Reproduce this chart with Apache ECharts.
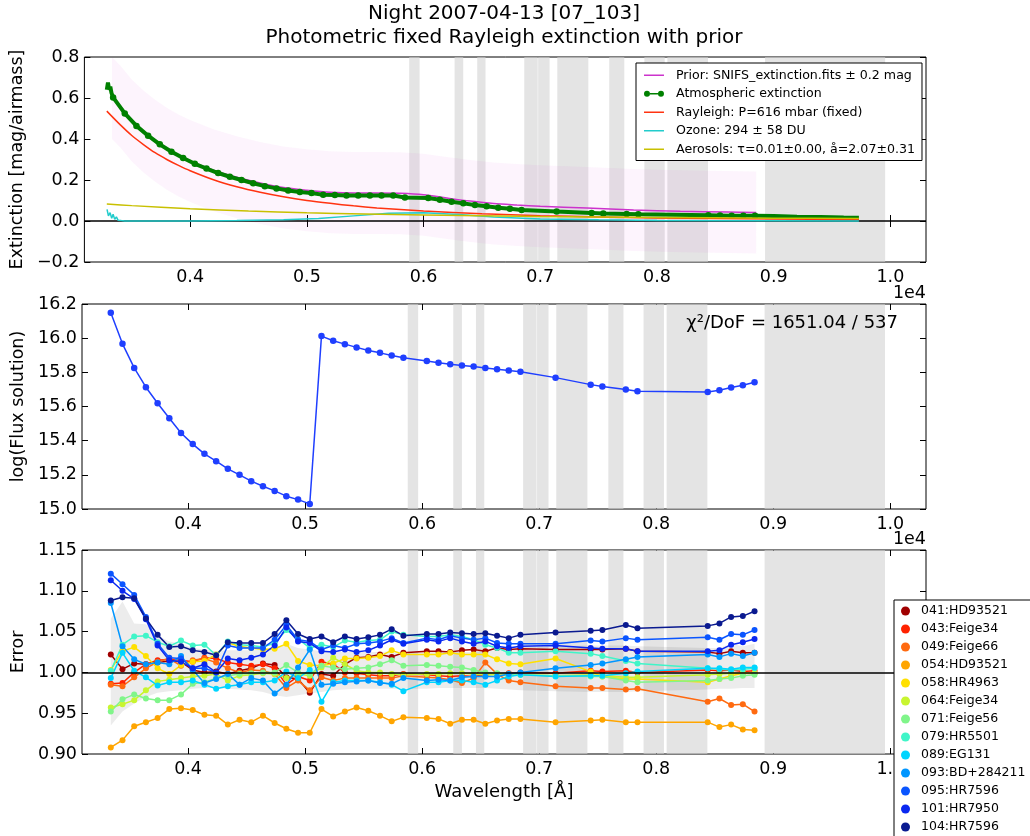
<!DOCTYPE html>
<html>
<head>
<meta charset="utf-8">
<script src="https://cdn.jsdelivr.net/npm/echarts@6/dist/echarts.min.js"></script>
<style>
  html, body { margin: 0; padding: 0; background: #fff; }
  #chart { width: 1030px; height: 836px; }
</style>
</head>
<body>
<div id="chart"></div>
<script>
// wavelength grid of the fitted points (Angstrom)
var WAVES = [3340,3440,3540,3640,3740,3840,3940,4040,4140,4240,4340,4440,4540,4640,4740,4840,4940,5040,
             5140,5240,5340,5440,5540,5640,5740,5840,
             6040,6140,6240,6340,6440,6540,6640,6740,6840,
             7140,7440,7540,7740,7840,
             8440,8540,8640,8740,8840];

// telluric / masked regions (grey bands)
var TELLURIC = [[5877,5966],[6266,6340],[6460,6531],[6863,6978],[6982,7080],[7146,7412],
                [7591,7720],[7892,8066],[8089,8437],[8926,9955]];

// top panel
var EXTINCTION = [0.603,0.525,0.464,0.416,0.374,0.338,0.307,0.279,0.256,0.234,0.216,0.200,0.184,0.170,0.159,0.149,0.141,0.136,
                  0.128,0.127,0.124,0.124,0.124,0.125,0.124,0.115,
                  0.112,0.104,0.094,0.086,0.078,0.072,0.065,0.060,0.054,
                  0.046,0.039,0.036,0.034,0.033,
                  0.028,0.027,0.026,0.026,0.026];
var EXT_HEAD_W = [3286,3296,3306,3316,3326];
var EXT_HEAD_V = [0.640,0.675,0.640,0.655,0.625];
var EXT_TAIL_W = [9000,9200,9400,9600,9730];
var EXT_TAIL_V = [0.024,0.021,0.019,0.017,0.016];

var PRIOR_W = [3330,3400,3500,3600,3700,3800,3900,4000,4200,4400,4600,4800,5000,5200,5400,5600,5800,6000,6200,6400,6600,6800,7000,7400,7800,8200,8600,8850];
var PRIOR_V = [0.600,0.560,0.490,0.437,0.392,0.353,0.320,0.293,0.248,0.213,0.185,0.163,0.150,0.140,0.136,0.137,0.135,0.128,0.112,0.097,0.085,0.078,0.072,0.063,0.054,0.047,0.044,0.042];

var RAY_W = [3286,3400,3500,3600,3700,3800,3900,4000,4200,4400,4600,4800,5000,5200,5400,5600,5800,6000,6500,7000,7500,8000,8500,9000,9730];
var RAY_V = [0.536,0.470,0.417,0.373,0.333,0.300,0.271,0.245,0.201,0.167,0.140,0.118,0.100,0.086,0.074,0.064,0.056,0.049,0.035,0.026,0.020,0.015,0.012,0.0095,0.007];

var OZ_W = [3288,3300,3314,3328,3340,3354,3368,3382,3396,3410,3425,3440,3600,4000,4400,4800,5100,5400,5700,6000,6300,6600,7000,7500,8000,9000,9730];
var OZ_V = [0.057,0.025,0.041,0.013,0.033,0.008,0.020,0.004,0.010,0.002,0.005,0.000,0.000,0.000,0.002,0.006,0.012,0.025,0.038,0.040,0.032,0.020,0.010,0.006,0.003,0.001,0.000];

var AER_W = [3286,3500,4000,4500,5000,5500,6000,7000,8000,9000,9730];
var AER_V = [0.083,0.075,0.060,0.049,0.040,0.034,0.029,0.022,0.017,0.014,0.012];

// middle panel
var FLUX = [16.149,15.967,15.826,15.713,15.619,15.531,15.445,15.380,15.323,15.280,15.235,15.200,15.163,15.133,15.106,15.075,15.055,15.030,
            16.012,15.985,15.965,15.946,15.928,15.914,15.899,15.885,
            15.867,15.856,15.848,15.840,15.834,15.826,15.818,15.811,15.803,
            15.769,15.728,15.717,15.699,15.689,
            15.685,15.695,15.711,15.724,15.742];

// bottom panel
var STARS = ['041:HD93521','043:Feige34','049:Feige66','054:HD93521','058:HR4963','064:Feige34','071:Feige56',
             '079:HR5501','089:EG131','093:BD+284211','095:HR7596','101:HR7950','104:HR7596'];
var STAR_COLORS = ['#a00000','#ff2200','#ff6a10','#ffa500','#ffe000','#c8f530','#80f58a',
                   '#40f5c8','#00d5ff','#0096ff','#0a55ff','#0a28f0','#0a1a90'];
var ERR_041 = [1.022,1.004,1.011,1.010,1.012,1.014,1.013,1.003,1.000,1.001,0.998,1.002,1.005,1.011,1.009,0.994,0.992,0.975,
               0.998,0.996,1.010,1.018,1.019,1.022,1.019,1.024, 1.026,1.026,1.025,1.027,1.028,1.026,1.030,1.028,1.029,
               1.028,1.028,1.028,1.029,1.026, 1.025,1.023,1.026,1.024,1.024];
var ERR_043 = [0.986,0.987,1.000,1.010,1.015,1.016,1.015,1.013,1.018,1.017,1.012,1.010,1.008,1.010,1.005,0.985,0.995,0.990,
               1.013,1.010,1.000,0.999,0.997,0.996,0.996,0.998, 0.997,0.996,0.995,0.996,0.995,0.997,0.998,0.999,1.000,
               0.999,1.002,1.001,1.002,1.000, 1.003,1.002,1.003,1.001,1.002];
var ERR_049 = [0.985,0.983,0.994,1.005,1.013,1.017,1.008,1.015,1.017,1.012,1.005,1.000,1.003,1.002,0.998,0.981,0.990,0.978,
               0.994,0.990,0.993,0.993,0.993,0.993,0.993,0.996, 0.994,0.993,0.991,0.987,0.993,1.012,0.998,0.990,0.988,
               0.983,0.981,0.981,0.979,0.980, 0.964,0.968,0.960,0.961,0.952];
var ERR_054 = [0.908,0.917,0.934,0.939,0.944,0.955,0.956,0.954,0.948,0.947,0.936,0.942,0.939,0.947,0.938,0.931,0.926,0.926,
               0.955,0.946,0.952,0.957,0.953,0.947,0.940,0.945, 0.944,0.943,0.937,0.942,0.942,0.937,0.941,0.943,0.943,
               0.939,0.941,0.942,0.939,0.939, 0.939,0.933,0.936,0.930,0.929];
var ERR_058 = [1.003,1.026,1.031,1.020,1.005,0.998,1.009,1.013,1.014,1.022,1.036,1.032,1.030,1.028,1.029,1.035,1.014,1.009,
               1.008,1.011,1.017,1.017,1.018,1.020,1.027,1.022, 1.022,1.022,1.024,1.022,1.022,1.022,1.016,1.011,1.010,
               1.017,1.001,0.995,0.992,0.992, 0.988,0.992,0.996,0.999,0.999];
var ERR_064 = [0.957,0.961,0.966,0.978,0.989,0.991,0.993,0.995,0.996,0.998,0.990,0.996,0.997,0.999,0.998,0.993,0.998,0.996,
               1.006,1.018,1.010,1.002,1.000,1.000,0.998,0.997, 0.998,0.998,0.999,0.999,0.998,0.997,0.997,0.996,0.997,
               0.996,0.997,0.996,0.994,0.994, 0.997,0.998,0.999,0.999,0.999];
var ERR_071 = [0.952,0.967,0.973,0.968,0.966,0.966,0.973,0.986,0.988,0.993,0.996,0.998,0.999,1.000,1.000,1.009,1.000,0.998,
               1.008,1.006,1.004,1.005,1.006,1.010,1.015,1.008, 1.009,1.008,1.007,1.006,1.003,1.000,0.999,0.998,0.997,
               0.996,0.995,0.995,0.990,0.988, 0.990,0.992,0.993,0.996,0.997];
var ERR_079 = [1.002,1.034,1.044,1.045,1.037,1.032,1.039,1.033,1.034,1.021,1.038,1.034,1.033,1.031,1.036,1.052,1.041,1.030,
               1.034,1.031,1.039,1.037,1.039,1.040,1.050,1.046, 1.044,1.044,1.046,1.044,1.040,1.034,1.030,1.024,1.024,
               1.026,1.023,1.020,1.014,1.011, 1.005,1.004,1.003,1.004,1.005];
var ERR_089 = [0.993,1.024,1.002,0.994,0.984,0.988,0.988,0.990,0.985,0.980,0.983,0.985,0.988,0.988,0.990,1.001,0.993,1.003,
               0.964,0.988,0.990,0.990,0.990,0.988,0.985,0.977, 0.988,0.988,0.990,0.990,0.988,0.985,0.990,0.995,0.997,
               0.995,0.996,0.996,0.999,1.001, 1.005,1.005,1.004,1.006,1.006];
var ERR_093 = [1.085,1.032,1.016,1.010,1.012,1.010,1.020,1.003,0.987,0.992,0.998,0.985,0.993,0.990,0.974,0.985,1.006,1.028,
               0.985,0.986,0.988,0.989,0.990,0.987,0.986,0.993, 0.990,0.991,0.990,0.994,0.995,0.995,0.995,0.998,1.000,
               1.005,1.009,1.011,1.016,1.019, 1.022,1.019,1.023,1.020,1.024];
var ERR_095 = [1.121,1.108,1.095,1.068,1.035,1.018,1.017,1.005,1.005,1.000,1.033,1.030,1.030,1.030,1.040,1.058,1.040,1.038,
               1.028,1.033,1.030,1.035,1.036,1.038,1.042,1.036, 1.042,1.040,1.045,1.042,1.040,1.042,1.036,1.035,1.035,
               1.035,1.039,1.038,1.042,1.040, 1.043,1.040,1.047,1.046,1.052];
var ERR_101 = [1.113,1.100,1.090,1.065,1.033,1.015,1.013,1.005,1.010,1.000,1.017,1.015,1.018,1.022,1.033,1.055,1.038,1.036,
               1.026,1.025,1.028,1.025,1.027,1.033,1.040,1.035, 1.040,1.038,1.042,1.038,1.035,1.038,1.032,1.030,1.032,
               1.033,1.030,1.029,1.029,1.026, 1.026,1.027,1.034,1.037,1.041];
var ERR_104 = [1.088,1.092,1.091,1.066,1.046,1.031,1.032,1.027,1.025,1.021,1.037,1.036,1.036,1.036,1.047,1.064,1.047,1.041,
               1.044,1.037,1.044,1.041,1.043,1.046,1.053,1.045, 1.047,1.047,1.049,1.048,1.047,1.048,1.045,1.042,1.046,
               1.049,1.051,1.052,1.058,1.054, 1.057,1.060,1.068,1.069,1.075];
var STAR_VALUES = [ERR_041,ERR_043,ERR_049,ERR_054,ERR_058,ERR_064,ERR_071,ERR_079,ERR_089,ERR_093,ERR_095,ERR_101,ERR_104];

// grey error envelope
var ERR_LO = [0.935,0.952,0.962,0.970,0.975,0.977,0.978,0.980,0.981,0.981,0.980,0.979,0.978,0.976,0.972,0.970,0.972,0.974,
              0.976,0.978,0.979,0.980,0.980,0.980,0.980,0.980, 0.980,0.981,0.981,0.981,0.981,0.981,0.980,0.979,0.978,
              0.977,0.976,0.976,0.976,0.977, 0.979,0.980,0.980,0.981,0.981];
var ERR_HI = [1.066,1.087,1.060,1.059,1.045,1.038,1.035,1.030,1.028,1.026,1.027,1.027,1.027,1.028,1.030,1.035,1.030,1.028,
              1.026,1.025,1.025,1.025,1.025,1.025,1.026,1.025, 1.025,1.025,1.025,1.025,1.025,1.026,1.027,1.028,1.030,
              1.032,1.033,1.033,1.033,1.032, 1.030,1.030,1.035,1.032,1.035];

var X_MIN = 3094, X_MAX = 10305;
var X_TICKS = [4000,5000,6000,7000,8000,9000,10000];
var FONT = 'DejaVu Sans';

var PRIOR_NAME = 'Prior: SNIFS_extinction.fits \u00b1 0.2 mag';
var EXT_NAME = 'Atmospheric extinction';
var RAY_NAME = 'Rayleigh: P=616 mbar (fixed)';
var OZ_NAME = 'Ozone: 294 \u00b1 58 DU';
var AER_NAME = 'Aerosols: \u03c4=0.01\u00b10.00, \u00e5=2.07\u00b10.31';

// legend icons: plain line, and line with a dot at each end (bbox padded to 20x8)
var LINE_ICON = 'path://M0,0L20,0L20,0.01Z M0,3.25L20,3.25L20,4.75L0,4.75Z M0,8L20,8L20,8.01Z';
var DOT_LINE_ICON = 'path://M0,0L20,0L20,0.01Z M6,3.25L14,3.25L14,4.75L6,4.75Z ' +
    'M0,4A3,3 0 1,0 6,4A3,3 0 1,0 0,4Z M14,4A3,3 0 1,0 20,4A3,3 0 1,0 14,4Z M0,8L20,8L20,8.01Z';

function zip(ws, vs) {
    return ws.map(function (w, i) { return [w, vs[i]]; });
}

// grey telluric bands, drawn inside the grid
function bandItem(params, api) {
    var cs = params.coordSys;
    var x0 = api.coord([api.value(0), 0])[0];
    var x1 = api.coord([api.value(1), 0])[0];
    return {
        type: 'rect', silent: true,
        shape: {x: x0, y: cs.y + 0.5, width: x1 - x0, height: cs.height - 1},
        style: {fill: '#e4e4e4'}
    };
}

// filled envelope between lo and hi
function envelope(ws, lo, hi, fill) {
    return function (params, api) {
        if (params.dataIndex !== 0) return null;
        var cs = params.coordSys;
        var pts = [], i;
        for (i = 0; i < ws.length; i++) pts.push(api.coord([ws[i], hi[i]]));
        for (i = ws.length - 1; i >= 0; i--) pts.push(api.coord([ws[i], lo[i]]));
        return {
            type: 'polygon', silent: true,
            shape: {points: pts},
            style: {fill: fill},
            clipPath: {type: 'rect', shape: {x: cs.x, y: cs.y + 0.5, width: cs.width, height: cs.height - 1}}
        };
    };
}

function xAxisFor(gi, top) {
    return {
        type: 'value', gridIndex: gi, min: X_MIN, max: X_MAX, position: top ? 'top' : 'bottom',
        splitLine: {show: false}, axisLine: {show: false},
        axisTick: {inside: true, length: 6, customValues: X_TICKS, lineStyle: {color: '#000'}},
        axisLabel: {show: !top, customValues: X_TICKS, color: '#000', fontSize: 17.5, fontFamily: FONT, margin: 6,
            formatter: function (v) { return (v / 1e4).toFixed(1); }}
    };
}

function yAxisFor(gi, right, min, max, step, digits, name) {
    var a = {
        type: 'value', gridIndex: gi, min: min, max: max, interval: step, position: right ? 'right' : 'left',
        splitLine: {show: false}, axisLine: {show: false},
        axisTick: {inside: true, length: 6, lineStyle: {color: '#000'}},
        axisLabel: {show: !right, color: '#000', fontSize: 17.5, fontFamily: FONT, margin: 5,
            formatter: function (v) { return v.toFixed(digits).replace('-', '\u2212'); }}
    };
    if (name && !right) {
        a.name = name;
        a.nameLocation = 'middle';
        a.nameGap = 52;
        a.nameTextStyle = {color: '#000', fontSize: 17.5, fontFamily: FONT};
    }
    return a;
}

var xAxes = [xAxisFor(0, false), xAxisFor(1, false), xAxisFor(2, false),
             xAxisFor(0, true), xAxisFor(1, true), xAxisFor(2, true)];
xAxes[2].name = 'Wavelength [\u00c5]';
xAxes[2].nameLocation = 'middle';
xAxes[2].nameGap = 29;
xAxes[2].nameTextStyle = {color: '#000', fontSize: 18, fontFamily: FONT};

var yAxes = [
    yAxisFor(0, false, -0.2, 0.8, 0.2, 1, 'Extinction [mag/airmass]'),
    yAxisFor(1, false, 15.0, 16.2, 0.2, 1, 'log(Flux solution)'),
    yAxisFor(2, false, 0.90, 1.15, 0.05, 2, 'Error'),
    yAxisFor(0, true, -0.2, 0.8, 0.2, 1),
    yAxisFor(1, true, 15.0, 16.2, 0.2, 1),
    yAxisFor(2, true, 0.90, 1.15, 0.05, 2)
];

var series = [];
[0, 1, 2].forEach(function (gi) {
    series.push({
        type: 'custom', name: 'telluric' + gi, xAxisIndex: gi, yAxisIndex: gi, z: 1,
        renderItem: bandItem, data: TELLURIC, encode: {x: [0, 1]}, silent: true
    });
});

// top panel
var priorLo = PRIOR_V.map(function (v) { return v - 0.2; });
var priorHi = PRIOR_V.map(function (v) { return v + 0.2; });
series.push({
    type: 'custom', name: 'priorBand', xAxisIndex: 0, yAxisIndex: 0, z: 1, silent: true,
    renderItem: envelope(PRIOR_W, priorLo, priorHi, 'rgba(200,0,200,0.045)'),
    data: zip(PRIOR_W, PRIOR_V)
});
series.push({
    type: 'line', name: PRIOR_NAME, xAxisIndex: 0, yAxisIndex: 0, z: 3,
    data: zip(PRIOR_W, PRIOR_V), symbol: 'none', smooth: 0.3,
    lineStyle: {color: '#cc33cc', width: 1.5}, itemStyle: {color: '#cc33cc'}
});
var extData = [].concat(
    EXT_HEAD_W.map(function (w, i) { return {value: [w, EXT_HEAD_V[i]], symbol: 'none'}; }),
    zip(WAVES, EXTINCTION),
    EXT_TAIL_W.map(function (w, i) { return {value: [w, EXT_TAIL_V[i]], symbol: 'none'}; })
);
series.push({
    type: 'line', name: EXT_NAME, xAxisIndex: 0, yAxisIndex: 0, z: 4,
    data: extData, symbol: 'circle', symbolSize: 6.5,
    lineStyle: {color: '#008000', width: 4}, itemStyle: {color: '#008000'}
});
series.push({
    type: 'line', name: RAY_NAME, xAxisIndex: 0, yAxisIndex: 0, z: 5,
    data: zip(RAY_W, RAY_V), symbol: 'none', smooth: 0.3,
    lineStyle: {color: '#ff3311', width: 1.5}, itemStyle: {color: '#ff3311'}
});
series.push({
    type: 'line', name: OZ_NAME, xAxisIndex: 0, yAxisIndex: 0, z: 5,
    data: zip(OZ_W, OZ_V), symbol: 'none',
    lineStyle: {color: '#22cccc', width: 1.5}, itemStyle: {color: '#22cccc'},
    markLine: {silent: true, symbol: 'none', label: {show: false}, data: [{yAxis: 0}],
        lineStyle: {color: '#000', width: 1.5, type: 'solid'}}
});
series.push({
    type: 'line', name: AER_NAME, xAxisIndex: 0, yAxisIndex: 0, z: 5,
    data: zip(AER_W, AER_V), symbol: 'none', smooth: 0.3,
    lineStyle: {color: '#c8c000', width: 1.5}, itemStyle: {color: '#c8c000'}
});

// middle panel
series.push({
    type: 'line', name: 'flux', xAxisIndex: 1, yAxisIndex: 1, z: 3,
    data: zip(WAVES, FLUX), symbol: 'circle', symbolSize: 6.5,
    lineStyle: {color: '#1f3fff', width: 1.5}, itemStyle: {color: '#1f3fff'}
});

// bottom panel
series.push({
    type: 'custom', name: 'errBand', xAxisIndex: 2, yAxisIndex: 2, z: 1, silent: true,
    renderItem: envelope(WAVES, ERR_LO, ERR_HI, 'rgba(0,0,0,0.075)'),
    data: zip(WAVES, ERR_LO)
});
STARS.forEach(function (name, k) {
    var s = {
        type: 'line', name: name, xAxisIndex: 2, yAxisIndex: 2, z: 3,
        data: zip(WAVES, STAR_VALUES[k]), symbol: 'circle', symbolSize: 6,
        lineStyle: {color: STAR_COLORS[k], width: 1.5}, itemStyle: {color: STAR_COLORS[k]}
    };
    if (k === 0) {
        s.markLine = {silent: true, symbol: 'none', label: {show: false}, data: [{yAxis: 1}],
            lineStyle: {color: '#000', width: 1.5, type: 'solid'}};
    }
    series.push(s);
});

function label(text, x, y, size, align) {
    return {type: 'text', x: x, y: y, z: 100, silent: true,
        style: {text: text, fill: '#000', font: size + 'px "DejaVu Sans"', textAlign: align, textVerticalAlign: 'middle'}};
}

var myChart = echarts.init(document.getElementById('chart'));
myChart.setOption({
    animation: false,
    backgroundColor: '#fff',
    textStyle: {fontFamily: FONT},
    grid: [
        {left: 82, top: 57, width: 844, height: 205, show: true, borderColor: '#000', borderWidth: 1},
        {left: 82, top: 304, width: 844, height: 205, show: true, borderColor: '#000', borderWidth: 1},
        {left: 82, top: 550, width: 844, height: 204, show: true, borderColor: '#000', borderWidth: 1}
    ],
    xAxis: xAxes,
    yAxis: yAxes,
    legend: [
        {
            data: [
                {name: PRIOR_NAME, icon: LINE_ICON},
                {name: EXT_NAME, icon: DOT_LINE_ICON},
                {name: RAY_NAME, icon: LINE_ICON},
                {name: OZ_NAME, icon: LINE_ICON},
                {name: AER_NAME, icon: LINE_ICON}
            ],
            orient: 'vertical', left: 636, top: 63, z: 10, selectedMode: false,
            backgroundColor: '#fff', borderColor: '#000', borderWidth: 1, borderRadius: 0,
            padding: [4, 7, 3, 8], itemWidth: 20, itemHeight: 8, itemGap: 2,
            textStyle: {color: '#000', fontSize: 12.6, fontFamily: FONT, lineHeight: 16.5, padding: [0, 0, 0, 7]}
        },
        {
            data: STARS, icon: 'circle',
            orient: 'vertical', left: 894, top: 600, height: 260, z: 10, selectedMode: false,
            backgroundColor: '#fff', borderColor: '#000', borderWidth: 1, borderRadius: 0,
            padding: [3, 40, 6, 7], itemWidth: 9, itemHeight: 9, itemGap: 2,
            textStyle: {color: '#000', fontSize: 12.5, fontFamily: FONT, lineHeight: 16, padding: [0, 0, 0, 6]}
        }
    ],
    graphic: [
        label('Night 2007-04-13 [07_103]', 504, 14, 20, 'center'),
        label('Photometric fixed Rayleigh extinction with prior', 504, 38, 20, 'center'),
        label('\u03c7\u00b2/DoF = 1651.04 / 537', 898, 323, 18, 'right'),
        label('1e4', 926, 293, 17.5, 'right'),
        label('1e4', 926, 539, 17.5, 'right')
    ],
    series: series
});
</script>
</body>
</html>
